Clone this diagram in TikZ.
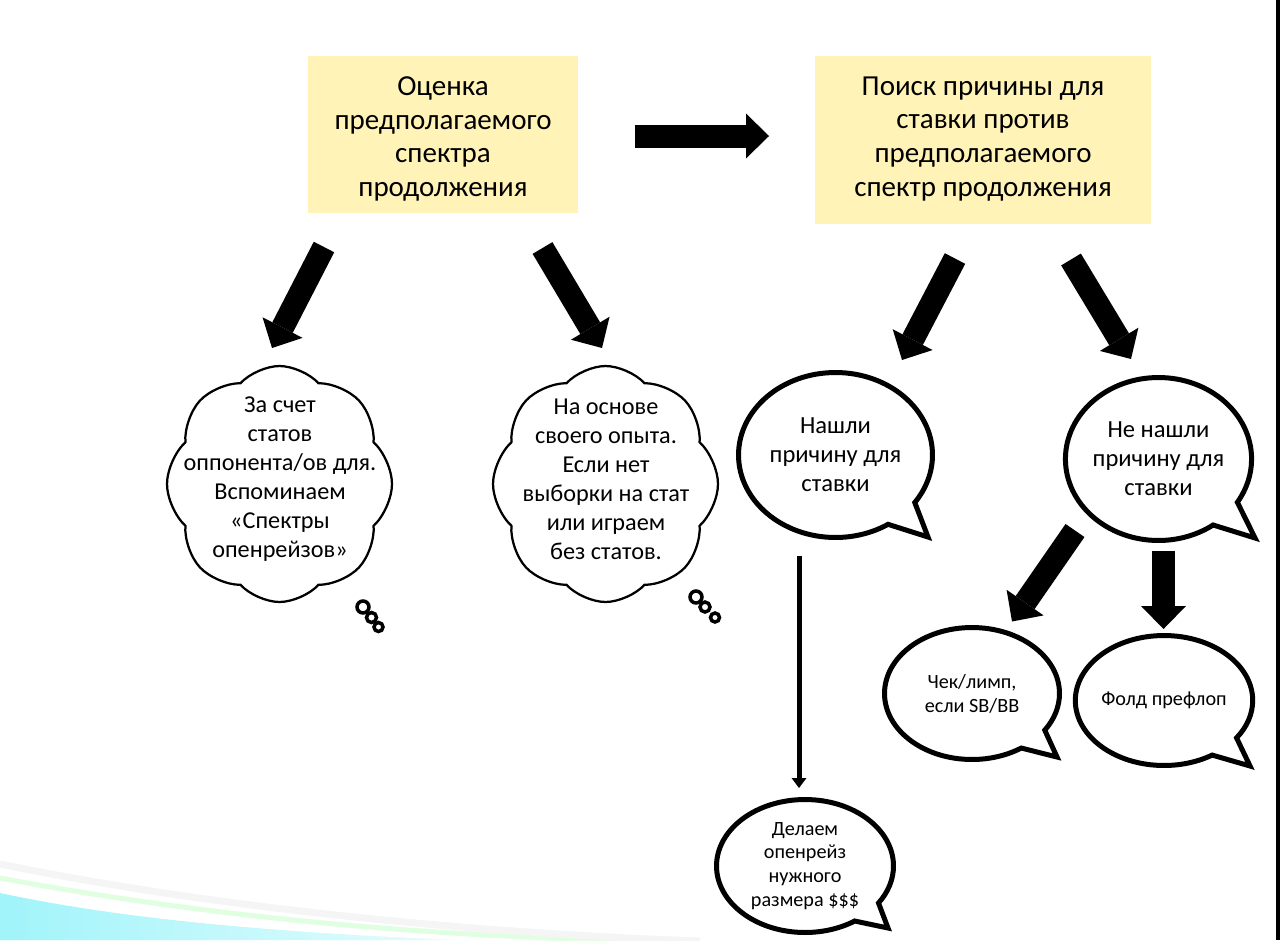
\documentclass[tikz,border=0pt]{standalone}
\usepackage{fontspec}
\setmainfont{Carlito}
\usetikzlibrary{shapes.symbols,shapes.callouts,arrows.meta}

\definecolor{boxyellow}{RGB}{255,243,183}
\definecolor{swooshcyan}{RGB}{160,244,250}

\tikzset{
  topbox/.style={fill=boxyellow, inner sep=0pt},
  boxtext/.style={align=center, font=\fontsize{16.5}{19.3}\selectfont},
  thinkcloud/.style={cloud, draw, line width=0.045cm, cloud puffs=8,
    cloud puff arc=95, minimum width=4.5cm, minimum height=4.72cm, inner sep=0pt},
  cloudtext/.style={align=center, font=\fontsize{13.8}{16.5}\selectfont},
  bubble/.style={ellipse callout, draw, line width=0.1cm, inner sep=0pt,
    callout pointer arc=22, align=center, font=\fontsize{14}{16.5}\selectfont},
  smallbubble/.style={bubble, font=\fontsize{11.5}{13.6}\selectfont},
  bigarrow/.style={line width=0.46cm,
    -{Triangle[width=0.9cm,length=0.46cm,line width=0pt]}},
  thinarrow/.style={line width=0.1cm,
    -{Triangle[width=0.3cm,length=0.2cm,line width=0pt]}},
  puff/.style={draw, fill=white, line width=0.07cm}
}

\begin{document}
\begin{tikzpicture}[x=0.02cm, y=-0.02cm]
  \useasboundingbox (0,0) rectangle (1280,940);

  % Slide background
  \shade[left color=swooshcyan, right color=white]
    (0,893) .. controls (150,925) and (350,940) .. (620,940) -- (0,940) -- cycle;
  \draw[white, line width=0.1cm] (0,888) .. controls (150,922) and (350,938) .. (620,941);
  \draw[green!12, line width=0.1cm] (0,878) .. controls (200,915) and (400,935) .. (640,941);
  \draw[gray!8, line width=0.14cm] (0,864) .. controls (200,905) and (450,932) .. (700,941);
  \fill (1276,0) rectangle (1280,940);

  % Top boxes
  \node[topbox, minimum width=5.4cm, minimum height=3.14cm] (estimate) at (443,134.5) {};
  \node[boxtext] (estimatetext) at (443,139)
    {Оценка\\предполагаемого\\спектра\\продолжения};
  \node[topbox, minimum width=6.72cm, minimum height=3.36cm] (search) at (983,140) {};
  \node[boxtext] (searchtext) at (983,139)
    {Поиск причины для\\ставки против\\предполагаемого\\спектр продолжения};

  % Thought clouds
  \node[thinkcloud] (stats) at (279.5,484) {};
  \node[cloudtext] (statstext) at (280,479)
    {За счет\\статов\\оппонента/ов для.\\Вспоминаем\\«Спектры\\опенрейзов»};
  \draw[puff] (363,607) circle (0.12cm);
  \draw[puff] (371.5,617.5) circle (0.1cm);
  \draw[puff] (378.5,627) circle (0.09cm);

  \node[thinkcloud] (exp) at (605.5,484) {};
  \node[cloudtext] (exptext) at (606,479)
    {На основе\\своего опыта.\\Если нет\\выборки на стат\\или играем\\без статов.};
  \draw[puff] (696,597) circle (0.12cm);
  \draw[puff] (705,607) circle (0.1cm);
  \draw[puff] (715,617.5) circle (0.09cm);

  % Speech bubbles
  \node[bubble, minimum width=3.88cm, minimum height=3.3cm,
    callout absolute pointer={(928,537)}] (found) at (835.5,455)
    {Нашли\\причину для\\ставки};
  \node[bubble, minimum width=3.68cm, minimum height=3.26cm,
    callout absolute pointer={(1255,538)}] (notfound) at (1158.5,459)
    {Не нашли\\причину для\\ставки};
  \node[smallbubble, minimum width=3.5cm, minimum height=2.64cm,
    callout absolute pointer={(1057,757)}] (check) at (972,693.5)
    {Чек/лимп,\\если SB/BB};
  \node[smallbubble, minimum width=3.54cm, minimum height=2.6cm,
    callout absolute pointer={(1250,766)}] (fold) at (1164,700.5)
    {Фолд префлоп};
  \node[smallbubble, minimum width=3.54cm, minimum height=2.66cm,
    callout absolute pointer={(888,928)}] (raise) at (805,866)
    {Делаем\\опенрейз\\нужного\\размера \$\$\$};

  % Arrow ends
  \coordinate (h1s) at (635,136);    \coordinate (h1e) at (769,136);
  \coordinate (a1s) at (324,247);    \coordinate (a1e) at (272,348);
  \coordinate (a2s) at (542.5,248);  \coordinate (a2e) at (602,348);
  \coordinate (a3s) at (955,258.5);  \coordinate (a3e) at (902,360);
  \coordinate (a4s) at (1071,259.5); \coordinate (a4e) at (1131,359);
  \coordinate (a5s) at (1075,530.5); \coordinate (a5e) at (1012,621.5);
  \coordinate (a6s) at (1163.5,551); \coordinate (a6e) at (1163.5,629);
  \coordinate (t1s) at (799,556);    \coordinate (t1e) at (799,788);

  % Arrows
  \draw[bigarrow] (h1s) -- (h1e);
  \draw[bigarrow] (a1s) -- (a1e);
  \draw[bigarrow] (a2s) -- (a2e);
  \draw[bigarrow] (a3s) -- (a3e);
  \draw[bigarrow] (a4s) -- (a4e);
  \draw[bigarrow] (a5s) -- (a5e);
  \draw[bigarrow] (a6s) -- (a6e);
  \draw[thinarrow] (t1s) -- (t1e);
\end{tikzpicture}
\end{document}
